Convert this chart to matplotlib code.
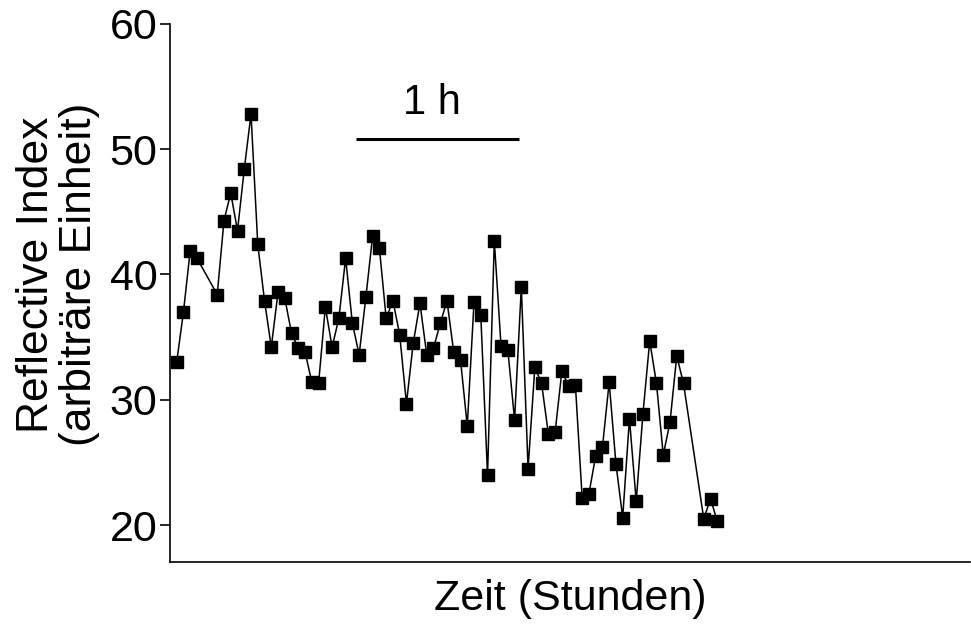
import matplotlib
matplotlib.use("Agg")
from matplotlib import pyplot as plt

plt.rcParams['font.family'] = ['Liberation Sans', 'DejaVu Sans']

# time in minutes (sample every 2.5 min, some samples missing)
zeit = [2.5, 5, 7.5, 10,
        17.5, 20, 22.5, 25, 27.5, 30, 32.5, 35, 37.5, 40,
        42.5, 45, 47.5, 50, 52.5, 55, 57.5, 60, 62.5, 65,
        67.5, 70, 72.5, 75, 77.5, 80, 82.5, 85, 87.5, 90,
        92.5, 95, 97.5, 100, 102.5, 105, 107.5, 110, 112.5, 115,
        117.5, 120, 122.5, 125, 127.5, 130, 132.5, 135, 137.5, 140,
        142.5, 145, 147.5, 150, 152.5, 155, 157.5, 160, 162.5, 165,
        167.5, 170, 172.5, 175, 177.5, 180, 182.5, 185, 187.5, 190,
        197.5, 200, 202.5]

index = [33.0, 37.0, 41.9, 41.3,
         38.4, 44.3, 46.5, 43.5, 48.4, 52.8, 42.4, 37.9, 34.2, 38.6,
         38.1, 35.3, 34.1, 33.8, 31.4, 31.3, 37.4, 34.2, 36.5, 41.3,
         36.1, 33.6, 38.2, 43.1, 42.1, 36.5, 37.9, 35.2, 29.7, 34.5,
         37.7, 33.6, 34.1, 36.1, 37.9, 33.8, 33.2, 27.9, 37.8, 36.8,
         24.0, 42.7, 34.3, 34.0, 28.4, 39.0, 24.5, 32.6, 31.3, 27.3,
         27.4, 32.3, 31.1, 31.2, 22.2, 22.5, 25.5, 26.2, 31.4, 24.9,
         20.6, 28.5, 21.9, 28.9, 34.7, 31.3, 25.6, 28.2, 33.5, 31.3,
         20.5, 22.1, 20.3]

y_ticks = [20, 30, 40, 50, 60]

fig = plt.figure(figsize=(9.71, 6.28), dpi=100)
ax = fig.add_axes([0.175, 0.105, 0.824, 0.857])

ax.plot(zeit, index, color="black", linewidth=1.1,
        marker="s", markersize=8, markerfacecolor="black", markeredgecolor="black")

# scale bar: 1 h
ax.plot([69, 129], [50.8, 50.8], color="black", linewidth=2.2, solid_capstyle="butt")
ax.text(97, 52.1, "1 h", ha="center", va="bottom", fontsize=30)

ax.set_xlim(0, 296)
ax.set_ylim(17.05, 60)
ax.set_yticks(y_ticks)
ax.set_xticks([])
ax.tick_params(axis="y", labelsize=31, length=7, width=1.2, direction="out", pad=2)

ax.spines["top"].set_visible(False)
ax.spines["right"].set_visible(False)
ax.spines["left"].set_linewidth(1.2)
ax.spines["bottom"].set_linewidth(1.2)

ax.set_xlabel("Zeit (Stunden)", fontsize=31, labelpad=12)
ax.set_ylabel("Reflective Index\n(arbiträre Einheit)", fontsize=32, linespacing=1.05)
# label centred on the 20-60 range, like the reference
ax.yaxis.set_label_coords(-0.0875, 0.534)

fig.savefig("out.png", dpi=100)
